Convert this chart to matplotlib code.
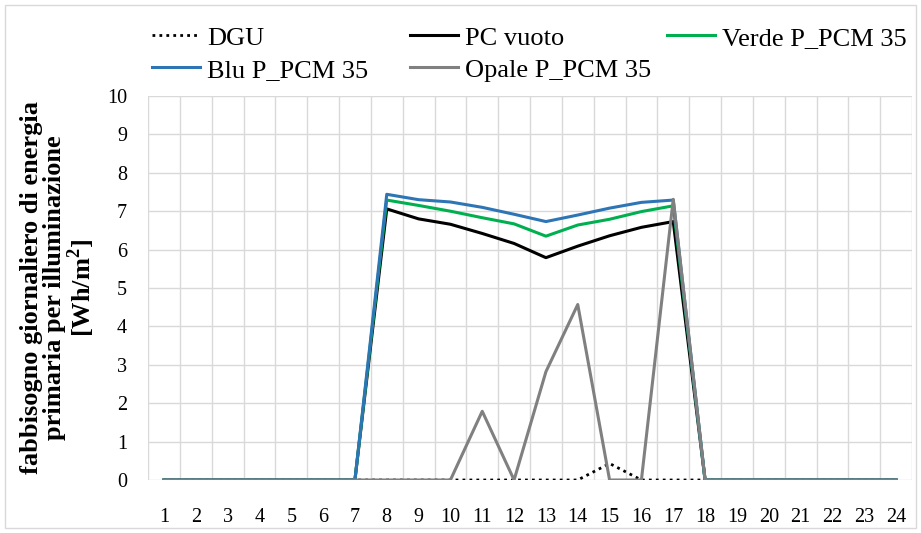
import numpy as np
import matplotlib.pyplot as plt
from matplotlib.patches import Rectangle

plt.rcParams['font.family'] = ['Liberation Serif', 'DejaVu Serif']
plt.rcParams['mathtext.fontset'] = 'custom'
plt.rcParams['mathtext.rm'] = 'Liberation Serif'
plt.rcParams['mathtext.bf'] = 'Liberation Serif:bold'

ore = list(range(1, 25))

dgu = [0, 0, 0, 0, 0, 0, 0, 0, 0, 0, 0, 0, 0, 0, 0.43, 0, 0, 0, 0, 0, 0, 0, 0, 0]
pc_vuoto = [0, 0, 0, 0, 0, 0, 0, 7.06, 6.80, 6.66, 6.42, 6.16, 5.79, 6.09, 6.36, 6.58, 6.73,
            0, 0, 0, 0, 0, 0, 0]
verde = [0, 0, 0, 0, 0, 0, 0, 7.29, 7.15, 7.00, 6.83, 6.67, 6.35, 6.64, 6.79, 6.99, 7.14,
         0, 0, 0, 0, 0, 0, 0]
blu = [0, 0, 0, 0, 0, 0, 0, 7.44, 7.30, 7.24, 7.10, 6.92, 6.73, 6.90, 7.08, 7.23, 7.29,
       0, 0, 0, 0, 0, 0, 0]
opale = [0, 0, 0, 0, 0, 0, 0, 0, 0, 0, 1.79, 0, 2.82, 4.57, 0, 0, 7.31,
         0, 0, 0, 0, 0, 0, 0]

fig = plt.figure(figsize=(9.21, 5.33), dpi=100)
ax = fig.add_axes([148/921, 53/533, 764/921, 384/533])

l_dgu, = ax.plot(ore, dgu, color='black', lw=2, ls=(0, (1, 1.5)), label='DGU')
l_pc, = ax.plot(ore, pc_vuoto, color='black', lw=2.2, label='PC vuoto')
l_ve, = ax.plot(ore, verde, color='#00B050', lw=2.2, label='Verde P_PCM 35')
l_bl, = ax.plot(ore, blu, color='#2E75B6', lw=2.2, label='Blu P_PCM 35')
l_op, = ax.plot(ore, opale, color='#808080', lw=2.2, label='Opale P_PCM 35')

ax.set_xlim(0.5, 24.5)
ax.set_ylim(0, 10)
ax.set_xticks(ore)
ax.set_xticklabels([str(o) for o in ore])
ax.set_yticks(range(0, 11))
ax.set_xticks(np.arange(0.5, 25, 1), minor=True)
ax.grid(False)
ax.grid(True, which='minor', axis='x', color='#D9D9D9', lw=1)
ax.grid(True, which='major', axis='y', color='#D9D9D9', lw=1)
ax.set_axisbelow(True)
for s in ax.spines.values():
    s.set_visible(False)
ax.tick_params(axis='both', which='both', length=0, labelsize=14.5)
ax.tick_params(axis='x', pad=20)
ax.tick_params(axis='y', pad=15)

ax.set_ylabel('fabbisogno giornaliero di energia\nprimaria per illuminazione\n[Wh/m$^{\\mathbf{2}}$]',
              fontsize=19, fontweight='bold', linespacing=1.0, labelpad=7)

# legend entries placed one by one (x of handle start, y of row centre, in px)
voci = [(l_dgu, 152, 38), (l_pc, 410, 38), (l_ve, 667, 38),
        (l_bl, 152, 70), (l_op, 410, 70)]
for h, x, y in voci:
    fig.legend(handles=[h], labels=[h.get_label()], loc='center left',
               bbox_to_anchor=(x/921, 1 - y/533), frameon=False, fontsize=19,
               handlelength=1.8, handletextpad=0.3, borderpad=0, borderaxespad=0)

fig.patches.append(Rectangle((5/921, 5/533), 911/921, 523/533, transform=fig.transFigure,
                             fill=False, edgecolor='#D9D9D9', lw=1))

fig.savefig('out.png', dpi=100)
